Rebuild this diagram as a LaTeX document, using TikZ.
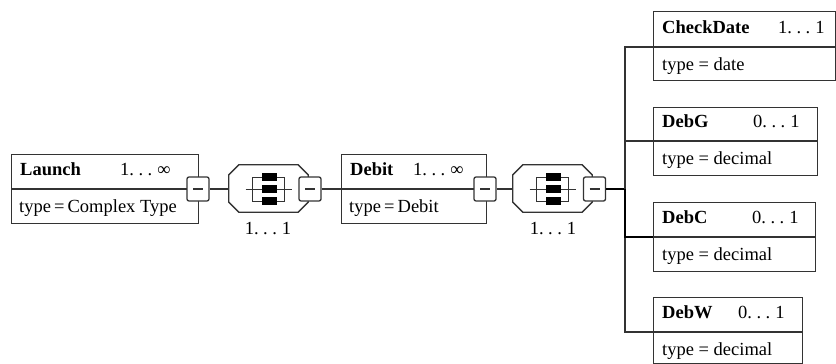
\documentclass[tikz,border=0pt]{standalone}
\usepackage{fontspec}
\setmainfont{Liberation Serif}
\newcommand\ddd{.\kern4.5pt.\kern4.5pt.\kern5pt}
\begin{document}
\begin{tikzpicture}[x=1pt,y=-1pt,
  ln/.style={line width=1.3pt, draw=black!80},
  thk/.style={line width=2.2pt, draw=black},
  elbox/.style={ln, rectangle, anchor=north west, inner sep=0pt},
  minusbox/.style={ln, fill=white, rounded corners=2pt, minimum width=22pt, minimum height=24pt, inner sep=0pt},
  seqbox/.style={rectangle, minimum width=79pt, minimum height=47pt, inner sep=0pt},
  ttl/.style={anchor=base west, font=\fontsize{18.5}{20}\selectfont\bfseries, inner sep=0pt},
  txt/.style={anchor=base west, font=\fontsize{18.5}{20}\selectfont, inner sep=0pt}
]
\useasboundingbox (0,0) rectangle (836,364);

% element boxes
\node[elbox, minimum width=187pt, minimum height=69pt] (launch) at (11,154) {};
\node[elbox, minimum width=145pt, minimum height=69pt] (debit) at (341,154) {};
\node[elbox, minimum width=182pt, minimum height=69pt] (checkdate) at (653,11) {};
\node[elbox, minimum width=164pt, minimum height=68pt] (debg) at (653,107) {};
\node[elbox, minimum width=162pt, minimum height=69pt] (debc) at (653,202) {};
\node[elbox, minimum width=149pt, minimum height=66pt] (debw) at (653,297) {};

% dividers
\draw[ln] (launch.west |- 0,189) -- (launch.east |- 0,189);
\draw[ln] (debit.west |- 0,189) -- (debit.east |- 0,189);
\draw[ln] (checkdate.west |- 0,47) -- (checkdate.east |- 0,47);
\draw[ln] (debg.west |- 0,141) -- (debg.east |- 0,141);
\draw[ln] (debc.west |- 0,237) -- (debc.east |- 0,237);
\draw[ln] (debw.west |- 0,332) -- (debw.east |- 0,332);

% texts
\node[ttl] (t1) at (20,175) {Launch};
\node[txt] (m1) at (120,175) {1\ddd∞};
\node[txt] (y1) at (19,212) {type\,=\,Complex Type};
\node[ttl] (t2) at (350,175) {Debit};
\node[txt] (m2) at (413,175) {1\ddd∞};
\node[txt] (y2) at (349,212) {type\,=\,Debit};
\node[ttl] (t3) at (662,33) {CheckDate};
\node[txt] (m3) at (778,33) {1\ddd1};
\node[txt] (y3) at (662,70) {type = date};
\node[ttl] (t4) at (662,127) {DebG};
\node[txt] (m4) at (753,127) {0\ddd1};
\node[txt] (y4) at (662,164) {type = decimal};
\node[ttl] (t5) at (662,223) {DebC};
\node[txt] (m5) at (752,223) {0\ddd1};
\node[txt] (y5) at (662,260) {type = decimal};
\node[ttl] (t6) at (662,318) {DebW};
\node[txt] (m6) at (738,318) {0\ddd1};
\node[txt] (y6) at (662,355) {type = decimal};

% sequence compositors
\foreach \n/\cx in {seq1/268.5, seq2/552.5}{
  \node[seqbox] (\n) at (\cx,188.5) {};
  \draw[ln] ([xshift=10pt]\n.north west) -- ([xshift=-10pt]\n.north east)
    -- ([yshift=-10pt]\n.north east) -- ([yshift=10pt]\n.south east)
    -- ([xshift=-10pt]\n.south east) -- ([xshift=10pt]\n.south west)
    -- ([yshift=10pt]\n.south west) -- ([yshift=-10pt]\n.north west) -- cycle;
  \begin{scope}[shift={(\n.center)}]
    \draw[ln, line width=1pt] (-23,0.5) -- (23,0.5);
    \draw[ln, line width=1pt] (-16,-11.5) rectangle (16,12.5);
    \fill[black] (-7,-15.5) rectangle (8,-7.5);
    \fill[black] (-7,-3.5) rectangle (8,4);
    \fill[black] (-7,8.5) rectangle (8,16.5);
  \end{scope}
}
\node[txt, anchor=base] (l1) at (268,234) {1\ddd1};
\node[txt, anchor=base] (l2) at (553,234) {1\ddd1};

% minus boxes
\foreach \n/\cx in {lm/198, sm1/310, dm/485, sm2/594.5}{
  \node[minusbox] (\n) at (\cx,189) {};
  \draw[ln, line width=1.5pt] ([xshift=-5pt]\n.center) -- ([xshift=5pt]\n.center);
}

% connectors
\draw[ln] (lm.east) -- (seq1.west |- lm.east);
\draw[ln] (sm1.east) -- (debit.west |- sm1.east);
\draw[ln] (dm.east) -- (seq2.west |- dm.east);
\coordinate (trunk) at (625,189);
\coordinate (cdc) at (653,47);
\coordinate (dgc) at (653,141);
\coordinate (dcc) at (653,237);
\coordinate (dwc) at (653,332);
\draw[thk] (sm2.east) -- (trunk);
\draw[ln] (trunk) |- (cdc);
\draw[ln] (trunk) |- (dgc);
\draw[ln] (trunk) |- (dwc);
\draw[thk] (trunk) |- (dcc);
\end{tikzpicture}
\end{document}
